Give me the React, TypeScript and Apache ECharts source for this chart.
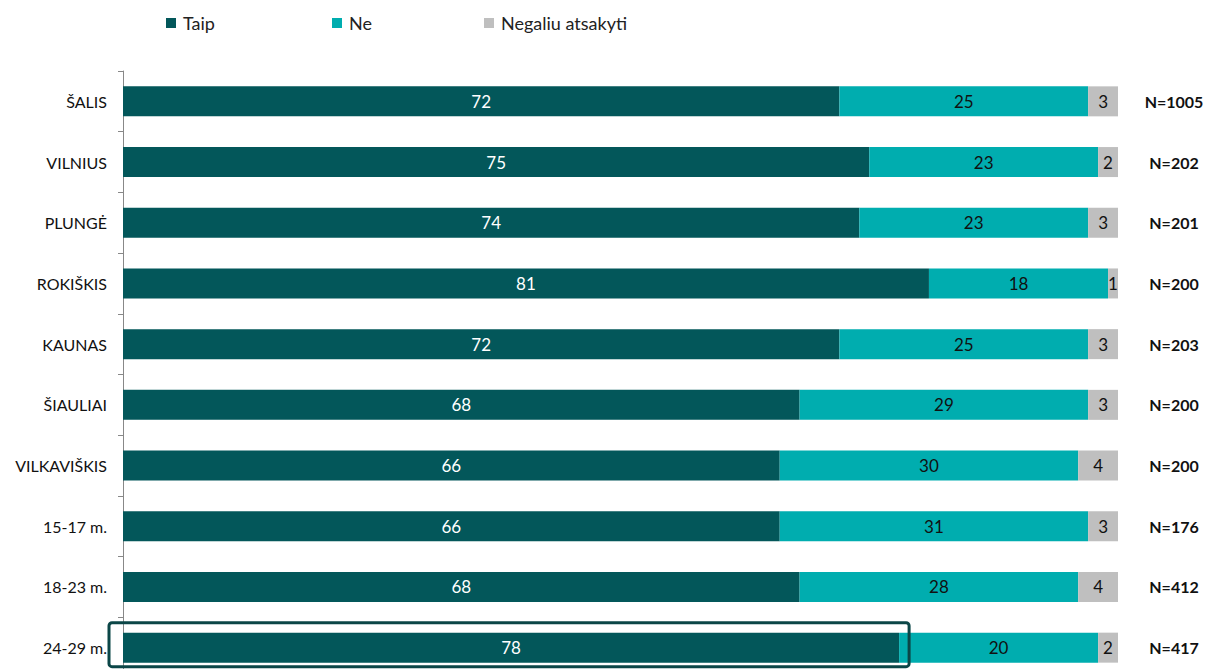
import React, { useEffect, useRef } from "react";
import * as echarts from "echarts";

const categories = ["ŠALIS", "VILNIUS", "PLUNGĖ", "ROKIŠKIS", "KAUNAS", "ŠIAULIAI", "VILKAVIŠKIS", "15-17 m.", "18-23 m.", "24-29 m."];
const taip = [72, 75, 74, 81, 72, 68, 66, 66, 68, 78];
const ne = [25, 23, 23, 18, 25, 29, 30, 31, 28, 20];
const negaliu = [3, 2, 3, 1, 3, 3, 4, 3, 4, 2];
const nLabels = ["N=1005", "N=202", "N=201", "N=200", "N=203", "N=200", "N=200", "N=176", "N=412", "N=417"];
const seriesNames = ["Taip", "Ne", "Negaliu atsakyti"];
const highlighted = { category: "24-29 m.", value: 78 };

const FONT = "Lato, 'Noto Sans', sans-serif";
const colors = ["#03575A", "#00ADAF", "#BFBFBF"];

export default function App() {
  const ref = useRef<HTMLDivElement>(null);
  useEffect(() => {
    const chart = echarts.init(ref.current!, null, { renderer: "svg" });
    const labelCommon = { show: true, position: "inside", fontFamily: FONT, fontSize: 17 };
    const legendPos = [166, 332, 484];
    chart.setOption({
      animation: false,
      textStyle: { fontFamily: FONT },
      legend: seriesNames.map((n, i) => ({
        data: [n],
        left: legendPos[i],
        top: 14,
        padding: 0,
        icon: "rect",
        itemWidth: 10,
        itemHeight: 10,
        itemGap: 0,
        textStyle: { fontFamily: FONT, fontSize: 18, color: "#222", padding: [0, 0, 0, 2] },
      })),
      grid: { left: 123, top: 71, width: 995, height: 607, containLabel: false },
      xAxis: { type: "value", min: 0, max: 100, show: false },
      yAxis: [
        {
          type: "category",
          data: categories,
          inverse: true,
          axisLine: { show: true, lineStyle: { color: "#888", width: 1 } },
          axisTick: { show: true, length: 5, lineStyle: { color: "#888" } },
          axisLabel: { fontFamily: FONT, fontSize: 16, color: "#111", margin: 16 },
        },
        {
          type: "category",
          data: nLabels,
          inverse: true,
          position: "right",
          axisLine: { show: false },
          axisTick: { show: false },
          axisLabel: { fontFamily: FONT, fontSize: 16, fontWeight: "bold", color: "#111", margin: 56, align: "center" },
        },
      ],
      series: [
        { name: seriesNames[0], type: "bar", stack: "s", data: taip, barWidth: 30, itemStyle: { color: colors[0] }, label: { ...labelCommon, color: "#fff" } },
        { name: seriesNames[1], type: "bar", stack: "s", data: ne, barWidth: 30, itemStyle: { color: colors[1] }, label: { ...labelCommon, color: "#111" } },
        { name: seriesNames[2], type: "bar", stack: "s", data: negaliu, barWidth: 30, itemStyle: { color: colors[2] }, label: { ...labelCommon, color: "#111" } },
      ],
    });
    const p0 = chart.convertToPixel({ gridIndex: 0 }, [0, highlighted.category]) as number[];
    const p1 = chart.convertToPixel({ gridIndex: 0 }, [highlighted.value, highlighted.category]) as number[];
    if (p0 && p1) {
      chart.setOption({
        graphic: [
          {
            type: "rect",
            shape: { x: p0[0] - 14, y: p0[1] - 25, width: p1[0] - p0[0] + 24, height: 44, r: 3 },
            style: { fill: "none", stroke: "#0B4647", lineWidth: 3 },
            z: 100,
          },
        ],
      });
    }
    return () => chart.dispose();
  }, []);
  return (
    <div style={{ position: "absolute", left: 0, top: 0, width: 1207, height: 669, overflow: "hidden", background: "#fff" }}>
      <div ref={ref} style={{ width: 1207, height: 690 }} />
    </div>
  );
}
